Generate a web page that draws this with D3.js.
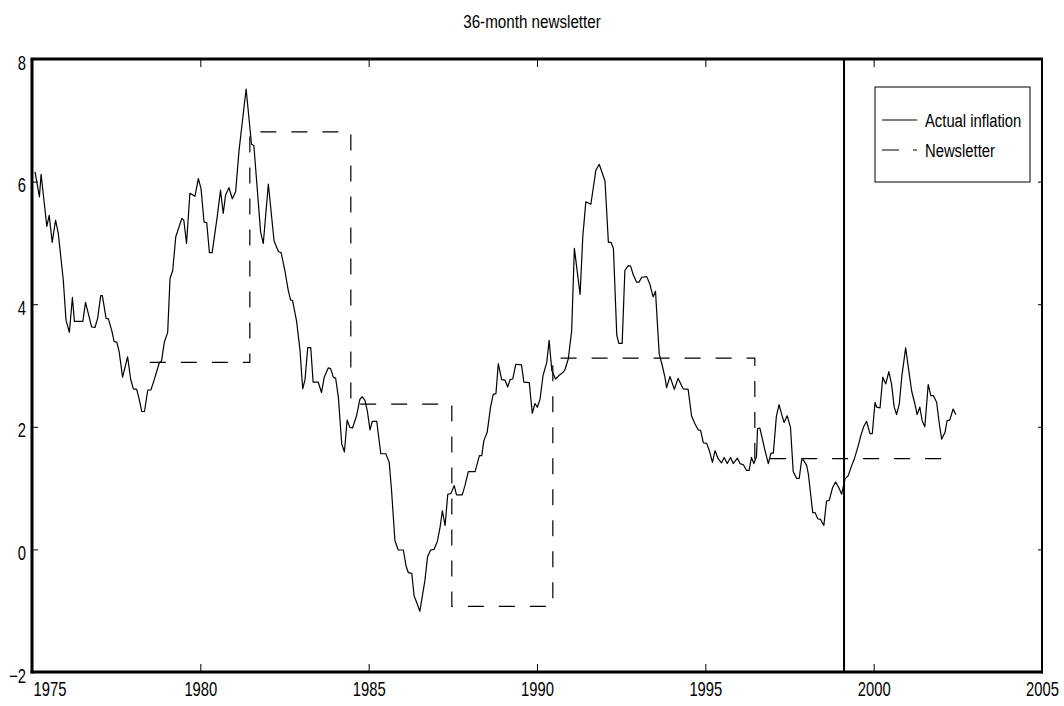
<!DOCTYPE html>
<html>
<head>
<meta charset="utf-8">
<script src="https://cdn.jsdelivr.net/npm/d3@7"></script>
<style>
  html, body { margin: 0; padding: 0; background: #fff; }
  svg text { font-family: "Liberation Sans", Arial, sans-serif; fill: #000; }
</style>
</head>
<body>
<svg id="chart" width="1064" height="706"></svg>
<script>
// ---------------- data ----------------
const chartTitle = "36-month newsletter";
const xTicks = [1975, 1980, 1985, 1990, 1995, 2000, 2005];
const yTicks = [-2, 0, 2, 4, 6, 8];

// Actual inflation (decimal year, percent)
const inflationDates = [
  1975.09,1975.22,1975.27,1975.44,1975.51,1975.60,1975.70,1975.78,1975.93,1976.01,
  1976.11,1976.20,1976.26,1976.51,1976.59,1976.77,1976.87,1976.95,1977.04,1977.09,
  1977.20,1977.27,1977.37,1977.44,1977.52,1977.59,1977.69,1977.84,1977.93,1978.01,
  1978.11,1978.18,1978.26,1978.34,1978.44,1978.53,1978.62,1978.78,1978.85,1978.93,
  1979.03,1979.10,1979.18,1979.27,1979.45,1979.51,1979.59,1979.69,1979.84,1979.94,
  1980.02,1980.11,1980.19,1980.27,1980.35,1980.50,1980.60,1980.68,1980.75,1980.85,
  1980.95,1981.05,1981.15,1981.36,1981.52,1981.59,1981.79,1981.87,1982.02,1982.19,
  1982.32,1982.40,1982.51,1982.61,1982.68,1982.74,1982.86,1982.96,1983.04,1983.11,
  1983.19,1983.28,1983.35,1983.50,1983.60,1983.68,1983.80,1983.87,1983.95,1984.02,
  1984.10,1984.20,1984.28,1984.36,1984.44,1984.52,1984.64,1984.74,1984.81,1984.89,
  1984.96,1985.04,1985.11,1985.24,1985.36,1985.51,1985.61,1985.68,1985.78,1985.88,
  1986.03,1986.11,1986.18,1986.28,1986.35,1986.43,1986.52,1986.67,1986.75,1986.84,
  1986.94,1987.04,1987.12,1987.19,1987.27,1987.35,1987.44,1987.54,1987.61,1987.78,
  1987.86,1987.96,1988.16,1988.29,1988.36,1988.42,1988.52,1988.62,1988.70,1988.78,
  1988.85,1988.95,1989.05,1989.13,1989.20,1989.28,1989.37,1989.54,1989.61,1989.77,
  1989.86,1989.94,1990.01,1990.09,1990.18,1990.29,1990.36,1990.44,1990.55,1990.68,
  1990.76,1990.83,1990.93,1991.03,1991.11,1991.28,1991.36,1991.45,1991.60,1991.75,
  1991.85,1992.02,1992.12,1992.20,1992.27,1992.37,1992.43,1992.53,1992.61,1992.71,
  1992.78,1992.86,1992.96,1993.03,1993.11,1993.26,1993.35,1993.45,1993.52,1993.57,
  1993.63,1993.72,1993.80,1993.85,1993.95,1994.08,1994.19,1994.34,1994.49,1994.59,
  1994.69,1994.79,1994.86,1994.94,1995.04,1995.12,1995.21,1995.29,1995.38,1995.48,
  1995.56,1995.65,1995.75,1995.83,1995.95,1996.03,1996.13,1996.22,1996.30,1996.37,
  1996.44,1996.52,1996.55,1996.62,1996.77,1996.87,1996.95,1997.02,1997.11,1997.19,
  1997.27,1997.34,1997.43,1997.53,1997.61,1997.71,1997.79,1997.86,1997.91,1998.01,
  1998.06,1998.19,1998.26,1998.34,1998.42,1998.52,1998.60,1998.68,1998.78,1998.87,
  1998.97,1999.05,1999.15,1999.24,1999.35,1999.44,1999.54,1999.62,1999.71,1999.79,
  1999.89,1999.96,2000.04,2000.09,2000.19,2000.27,2000.36,2000.45,2000.53,2000.61,
  2000.68,2000.76,2000.84,2000.95,2001.03,2001.13,2001.23,2001.29,2001.37,2001.44,
  2001.52,2001.62,2001.70,2001.77,2001.87,2001.95,2002.02,2002.12,2002.18,2002.26,
  2002.36,2002.44
];
const inflationValues = [
  6.16,5.75,6.12,5.27,5.45,5.01,5.37,5.16,4.39,3.74,
  3.54,4.11,3.72,3.72,4.03,3.63,3.62,3.77,4.14,4.14,
  3.77,3.76,3.57,3.39,3.38,3.22,2.81,3.14,2.78,2.62,
  2.61,2.46,2.25,2.25,2.60,2.60,2.75,3.04,3.08,3.38,
  3.54,4.42,4.55,5.10,5.40,5.37,4.99,5.81,5.76,6.05,
  5.89,5.34,5.33,4.84,4.84,5.42,5.86,5.48,5.78,5.90,
  5.72,5.84,6.51,7.51,6.61,6.59,5.18,4.99,5.96,5.03,
  4.86,4.84,4.55,4.23,4.07,4.06,3.72,3.25,2.62,2.77,
  3.29,3.29,2.73,2.73,2.56,2.81,2.96,2.95,2.81,2.79,
  2.48,1.72,1.59,2.11,1.99,1.98,2.18,2.45,2.49,2.43,
  2.26,1.95,2.09,2.09,1.56,1.56,1.42,0.96,0.14,-0.01,
  -0.01,-0.27,-0.38,-0.39,-0.76,-0.87,-1.01,-0.51,-0.12,-0.01,
  0.00,0.13,0.36,0.63,0.39,0.90,0.91,1.04,0.89,0.89,
  1.04,1.27,1.27,1.53,1.53,1.77,1.91,2.32,2.53,2.54,
  3.03,2.77,2.76,2.65,2.77,2.78,3.02,3.01,2.73,2.72,
  2.22,2.38,2.32,2.45,2.84,3.05,3.41,2.92,2.78,2.85,
  2.88,2.93,3.11,3.57,4.91,4.16,5.10,5.67,5.63,6.19,
  6.28,6.01,5.01,5.01,4.91,3.49,3.36,3.36,4.55,4.63,
  4.62,4.48,4.36,4.36,4.44,4.45,4.33,4.12,4.21,3.74,
  3.19,3.00,2.81,2.64,2.82,2.61,2.79,2.62,2.61,2.18,
  2.05,1.95,1.94,1.74,1.73,1.61,1.42,1.61,1.48,1.41,
  1.50,1.40,1.50,1.40,1.49,1.40,1.38,1.29,1.29,1.50,
  1.40,1.51,1.97,1.98,1.62,1.40,1.57,1.57,2.17,2.36,
  2.20,2.07,2.18,1.99,1.27,1.16,1.16,1.46,1.46,1.37,
  1.23,0.60,0.60,0.50,0.49,0.39,0.79,0.80,1.01,1.10,
  1.00,0.90,1.15,1.20,1.37,1.50,1.69,1.86,2.01,2.09,
  1.89,1.89,2.40,2.32,2.31,2.81,2.70,2.90,2.70,2.32,
  2.20,2.37,2.84,3.29,2.97,2.58,2.36,2.20,2.32,2.10,
  2.00,2.69,2.51,2.51,2.40,2.05,1.80,1.91,2.10,2.11,
  2.29,2.20
];

// Newsletter 36-month forecasts (period start, value)
const newsletterStarts = [1978.50, 1981.47, 1984.47, 1987.47, 1990.47, 1993.47, 1996.47, 1999.47];
const newsletterValues = [3.05, 6.81, 2.37, -0.93, 3.12, 3.12, 1.48, 1.48];
const newsletterEnd = 2002.08;

const markerYear = 1999.12;   // vertical reference line
const legendLabels = ["Actual inflation", "Newsletter"];

// ---------------- drawing ----------------
const svg = d3.select("#chart");
const x = d3.scaleLinear().domain([1975, 2005]).range([32, 1042]);
const y = d3.scaleLinear().domain([-2, 8]).range([672, 59]);
const fontFam = '"Liberation Sans", Arial, sans-serif';

// horizontally condensed text helper
function condense(sel, s) {
  sel.each(function() {
    const t = d3.select(this);
    const x0 = +t.attr("x") || 0;
    t.attr("x", x0 / s).attr("transform", `scale(${s},1)`);
  });
}

// title
svg.append("text")
  .attr("x", 532).attr("y", 28)
  .attr("text-anchor", "middle")
  .attr("font-size", 19)
  .attr("font-family", fontFam)
  .text(chartTitle)
  .call(condense, 0.8);

// actual inflation line
const actual = inflationDates.map((d, i) => [d, inflationValues[i]]);
svg.append("path")
  .datum(actual)
  .attr("fill", "none")
  .attr("stroke", "#000")
  .attr("stroke-width", 1.2)
  .attr("stroke-linejoin", "round")
  .attr("d", d3.line().x(d => x(d[0])).y(d => y(d[1])));

// newsletter step line
const steps = newsletterStarts.map((d, i) => [d, newsletterValues[i]]);
steps.push([newsletterEnd, newsletterValues[newsletterValues.length - 1]]);
svg.append("path")
  .datum(steps)
  .attr("fill", "none")
  .attr("stroke", "#000")
  .attr("stroke-width", 1.2)
  .attr("stroke-dasharray", "16,15")
  .attr("d", d3.line().curve(d3.curveStepAfter).x(d => x(d[0])).y(d => y(d[1])));

// vertical marker line
svg.append("line")
  .attr("x1", x(markerYear)).attr("x2", x(markerYear))
  .attr("y1", y(8)).attr("y2", y(-2))
  .attr("stroke", "#000").attr("stroke-width", 2);

// axes
const gB = svg.append("g").attr("transform", `translate(0,${y(-2)})`)
  .call(d3.axisBottom(x).tickValues(xTicks).tickSizeInner(-8).tickSizeOuter(0).tickPadding(10).tickFormat(d3.format("d")));
const gL = svg.append("g").attr("transform", `translate(${x(1975)},0)`)
  .call(d3.axisLeft(y).tickValues(yTicks).tickSizeInner(-6).tickSizeOuter(0).tickPadding(6).tickFormat(d3.format("d")));
const gT = svg.append("g").attr("transform", `translate(0,${y(8)})`)
  .call(d3.axisTop(x).tickValues(xTicks).tickSizeInner(-8).tickSizeOuter(0).tickFormat(""));
const gR = svg.append("g").attr("transform", `translate(${x(2005)},0)`)
  .call(d3.axisRight(y).tickValues(yTicks).tickSizeInner(-4).tickSizeOuter(0).tickFormat(""));

[gB, gL, gT, gR].forEach(g => {
  g.select(".domain").remove();
  g.selectAll(".tick line").attr("stroke", "#000").attr("stroke-width", 1);
  g.selectAll("text").attr("font-family", fontFam).attr("font-size", 20).attr("fill", "#000");
});
gB.selectAll(".tick text").attr("dy", "0.71em");
gB.selectAll(".tick").filter(d => d === 1975).select("text").attr("text-anchor", "start").attr("x", 1);
gL.selectAll(".tick text").attr("dy", "0.5em");
gB.selectAll(".tick text").call(condense, 0.74);
gL.selectAll(".tick text").call(condense, 0.74);

// frame
svg.append("line").attr("x1", x(1975) - 1.5).attr("x2", x(2005) + 1).attr("y1", y(-2)).attr("y2", y(-2)).attr("stroke", "#000").attr("stroke-width", 3);
svg.append("line").attr("x1", x(1975) - 1.5).attr("x2", x(2005) + 1).attr("y1", y(8)).attr("y2", y(8)).attr("stroke", "#000").attr("stroke-width", 3);
svg.append("line").attr("x1", x(1975)).attr("x2", x(1975)).attr("y1", y(8)).attr("y2", y(-2) + 1.5).attr("stroke", "#000").attr("stroke-width", 3);
svg.append("line").attr("x1", x(2005)).attr("x2", x(2005)).attr("y1", y(8)).attr("y2", y(-2) + 1.5).attr("stroke", "#000").attr("stroke-width", 2);

// legend
const lg = svg.append("g").attr("transform", "translate(875,87)");
lg.append("rect").attr("width", 155).attr("height", 95).attr("fill", "#fff").attr("stroke", "#000").attr("stroke-width", 1);
const rows = [{dash: null}, {dash: "17,14"}];
rows.forEach((r, i) => {
  const yy = 33 + i * 30;
  lg.append("line").attr("x1", 7).attr("x2", 42).attr("y1", yy).attr("y2", yy)
    .attr("stroke", "#000").attr("stroke-width", 1.2)
    .attr("stroke-dasharray", r.dash);
  lg.append("text").attr("x", 50).attr("y", yy).attr("dy", "0.36em")
    .attr("font-size", 19).attr("font-family", fontFam)
    .text(legendLabels[i])
    .call(condense, 0.78);
});
</script>
</body>
</html>
